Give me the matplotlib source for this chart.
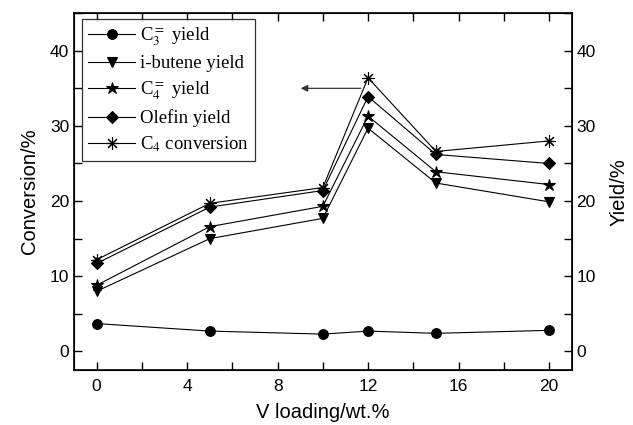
import numpy as np
import matplotlib
matplotlib.use('Agg')
from matplotlib import pyplot as plt
from matplotlib.ticker import MultipleLocator

# data
V_loading = [0, 5, 10, 12, 15, 20]
C3_yield = [3.7, 2.7, 2.3, 2.7, 2.4, 2.8]
iButene_yield = [8.0, 15.0, 17.7, 29.7, 22.4, 19.9]
C4_yield = [8.8, 16.6, 19.3, 31.3, 23.9, 22.2]
Olefin_yield = [11.7, 19.2, 21.4, 33.9, 26.2, 25.0]
C4_conversion = [12.2, 19.7, 21.8, 36.4, 26.6, 28.0]

labels = [r'C$_3^=$ yield', 'i-butene yield', r'C$_4^=$ yield',
          'Olefin yield', r'C$_4$ conversion']

plt.rcParams['font.family'] = ['Liberation Sans', 'DejaVu Sans']
plt.rcParams['mathtext.fontset'] = 'stix'

fig = plt.figure(figsize=(6.33, 4.25), dpi=100)
ax = fig.add_axes([0.117, 0.129, 0.786, 0.84])

series = [C3_yield, iButene_yield, C4_yield, Olefin_yield, C4_conversion]
markers = ['o', 'v', '*', 'D', (8, 2, 0)]
sizes = [7, 7.5, 9, 6, 9]
for y, m, s, lab in zip(series, markers, sizes, labels):
    ax.plot(V_loading, y, color='black', lw=0.8, marker=m, markersize=s,
            markerfacecolor='black', markeredgecolor='black',
            markeredgewidth=0.8, label=lab)

ax.set_xlim(-1, 21)
ax.set_ylim(-2.5, 45)
ax.xaxis.set_major_locator(MultipleLocator(4))
ax.xaxis.set_minor_locator(MultipleLocator(2))
ax.yaxis.set_major_locator(MultipleLocator(10))
ax.yaxis.set_minor_locator(MultipleLocator(5))
ax.tick_params(which='both', direction='in', labelsize=12.5, width=1, length=6)
ax.tick_params(axis='x', which='both', top=True, pad=6)
for sp in ax.spines.values():
    sp.set_linewidth(1.2)

ax.set_xlabel('V loading/wt.%', fontsize=14.5, labelpad=7)
ax.set_ylabel('Conversion/%', fontsize=14.5, labelpad=8)

ax2 = ax.twinx()
ax2.set_ylim(ax.get_ylim())
ax2.yaxis.set_major_locator(MultipleLocator(10))
ax2.yaxis.set_minor_locator(MultipleLocator(5))
ax2.tick_params(which='both', direction='in', labelsize=12.5, length=6, width=1)
ax2.set_ylabel('Yield/%', fontsize=14.5, labelpad=10)

# arrow pointing to the conversion axis
ax.annotate('', xy=(8.9, 35), xytext=(11.8, 35),
            arrowprops=dict(arrowstyle='-|>', color='#333333', lw=0.9,
                            mutation_scale=10))

leg = ax.legend(loc='upper left', bbox_to_anchor=(0.015, 0.985),
                prop={'family': 'Liberation Serif', 'size': 13.5},
                frameon=True, fancybox=False, edgecolor='black',
                handlelength=2.5, handletextpad=0.25, labelspacing=0.38,
                borderpad=0.35, borderaxespad=0)
leg.get_frame().set_linewidth(0.9)

fig.savefig('out.png', dpi=100)
